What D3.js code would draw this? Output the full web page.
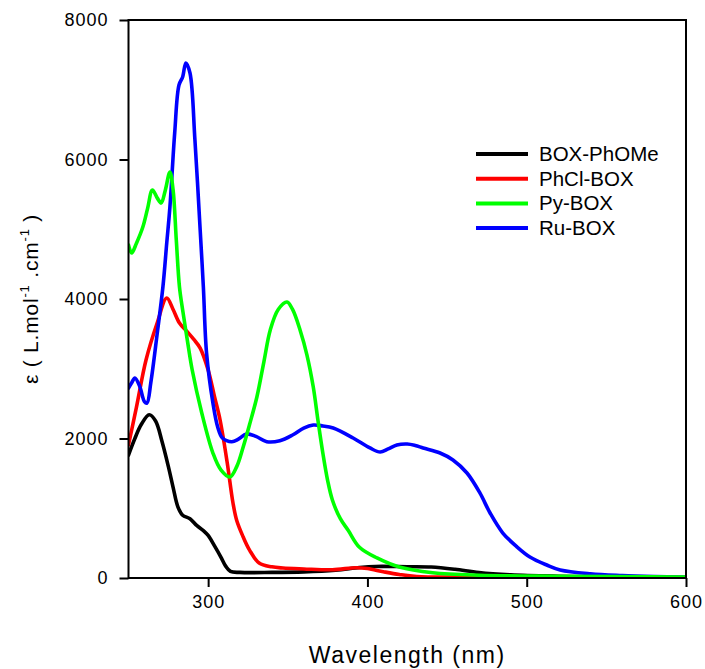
<!DOCTYPE html>
<html><head><meta charset="utf-8">
<script src="https://cdn.jsdelivr.net/npm/d3@7"></script>
<style>body{margin:0;background:#fff}svg{display:block}text{font-family:Arial,"Liberation Sans",sans-serif;fill:#000}</style>
</head><body><svg id="c" width="705" height="669"></svg>
<script>
const seriesNames = ["BOX-PhOMe","PhCl-BOX","Py-BOX","Ru-BOX"];
const seriesColors = ["#000000","#ff0000","#00ff00","#0000ff"];
const xTicks = [300,400,500,600];
const yTicks = [0,2000,4000,6000,8000];

const boxPhOMe = [[250,1763],[254,2000],[258,2200],[263,2340],[267,2250],[271,1960],[275,1600],[278,1300],[281,1020],[284,900],[288.6,850],[293,750],[297,680],[300,610],[304,460],[308,300],[311,170],[314,95],[320,80],[340,80],[360,88],[380,112],[395,150],[405,165],[425,162],[440,158],[455,125],[470,78],[490,45],[520,25],[560,12],[600,8]];
const phClBox = [[250,1907],[255,2450],[261,3125],[268,3656],[274,4014],[278,3850],[282,3656],[287,3527],[291,3420],[295,3297],[300,2982],[304,2600],[307.5,2265],[312,1649],[315.6,1075],[318,820],[322,588],[326,400],[332,215],[340,160],[347,143],[360,130],[378,118],[393,148],[400,135],[410,90],[420,50],[431,20],[460,12],[600,8]];
const pyBox = [[250,4774],[252,4660],[255,4800],[259,5032],[262,5300],[265,5563],[268,5450],[270.5,5376],[273,5550],[276,5820],[278,5563],[280,4846],[282,4172],[284,3842],[287,3400],[290,2982],[296,2366],[303,1792],[308,1550],[313.7,1448],[318,1600],[322,1878],[326,2200],[330.6,2595],[335,3100],[339,3556],[344,3850],[349.5,3957],[353,3850],[357.7,3556],[362,3200],[366,2738],[369,2250],[372,1792],[375,1400],[378,1118],[383,850],[388,680],[395,440],[406,287],[420,158],[441,76],[470,40],[520,25],[600,15]];
const ruBox = [[250,2724],[252,2800],[254,2867],[257,2750],[260,2530],[261.6,2509],[264,2800],[268,3500],[271.6,4172],[274,4800],[276,5319],[279,6380],[281.7,7068],[284,7183],[286,7384],[288.6,7240],[291.7,6280],[295,4989],[297,4172],[299,3226],[303,2509],[306,2165],[309,2007],[314.8,1954],[319,1990],[324,2065],[330,2030],[336.8,1954],[345,1968],[353,2050],[360,2150],[366,2193],[372,2180],[378.5,2150],[391,2007],[401.6,1864],[408,1806],[413,1850],[418.5,1907],[425,1921],[430,1900],[435,1864],[445.6,1792],[453.7,1692],[462.5,1505],[470.6,1219],[477,932],[485,645],[494,444],[502,301],[512.6,186],[521,115],[540,60],[560,35],[580,20],[600,10]];
const allSeries = [boxPhOMe, phClBox, pyBox, ruBox];

const svg = d3.select("#c");
const L = 128.5, R = 686, T = 20, B = 578;
const x = d3.scaleLinear().domain([250,600]).range([L,R]);
const y = d3.scaleLinear().domain([0,8000]).range([B,T]);

const line = d3.line().x(d=>x(d[0])).y(d=>y(d[1])).curve(d3.curveCatmullRom.alpha(0.5));

const plot = svg.append("g");
plot.append("defs").append("clipPath").attr("id","clip").append("rect")
  .attr("x",L).attr("y",T-10).attr("width",R-L).attr("height",B-T+10);

const order = [0,1,3,2];
order.forEach(i=>{
  plot.append("path").datum(allSeries[i]).attr("d",line)
    .attr("fill","none").attr("stroke",seriesColors[i]).attr("stroke-width",3.6)
    .attr("stroke-linejoin","round").attr("stroke-linecap","round")
    .attr("clip-path","url(#clip)");
});

// frame
svg.append("rect").attr("x",L).attr("y",T).attr("width",R-L).attr("height",B-T)
  .attr("fill","none").attr("stroke","#000").attr("stroke-width",2);

const xAxis = svg.append("g").attr("transform",`translate(0,${B})`)
  .call(d3.axisBottom(x).tickValues(xTicks).tickSize(9).tickPadding(8).tickFormat(d3.format("d")));
const yAxis = svg.append("g").attr("transform",`translate(${L},0)`)
  .call(d3.axisLeft(y).tickValues(yTicks).tickSize(9).tickPadding(11).tickFormat(d3.format("d")));
[xAxis,yAxis].forEach(a=>{
  a.select(".domain").remove();
  a.selectAll(".tick line").attr("stroke","#000").attr("stroke-width",2);
  a.selectAll(".tick text").attr("font-family","Arial, 'Liberation Sans', sans-serif")
    .attr("font-size",18).attr("letter-spacing","1px").attr("fill","#000");
});

svg.append("text").attr("x",(L+R)/2).attr("y",663).attr("text-anchor","middle")
  .attr("font-size",23).attr("letter-spacing","1.5px").text("Wavelength (nm)");

const yl = svg.append("text").attr("transform","translate(38,299) rotate(-90)")
  .attr("text-anchor","middle").attr("font-size",21).attr("letter-spacing","0.8px");
yl.append("tspan").text("ε ( L.mol");
yl.append("tspan").attr("dy",-9).attr("font-size",13).text("-1");
yl.append("tspan").attr("dy",9).text(" .cm");
yl.append("tspan").attr("dy",-9).attr("font-size",13).text("-1");
yl.append("tspan").attr("dy",9).text(" )");

const lg = svg.append("g");
seriesNames.forEach((n,i)=>{
  const yy = 154 + i*24.7;
  lg.append("line").attr("x1",476).attr("x2",528).attr("y1",yy).attr("y2",yy)
    .attr("stroke",seriesColors[i]).attr("stroke-width",4);
  lg.append("text").attr("x",539).attr("y",yy+7).attr("font-size",20.5).text(n);
});
</script></body></html>
